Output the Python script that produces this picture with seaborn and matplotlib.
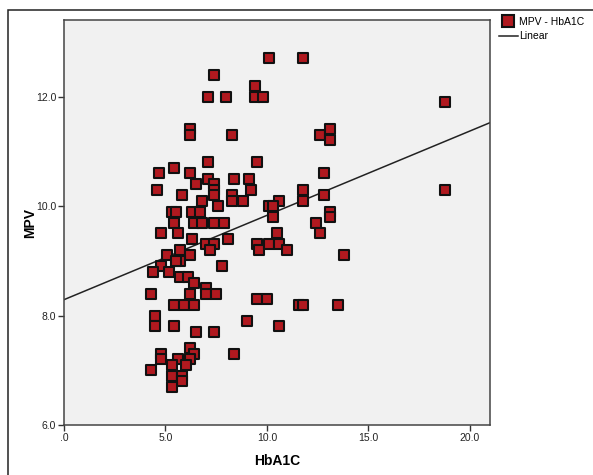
import numpy as np
import matplotlib
matplotlib.use("Agg")
import matplotlib.pyplot as plt
import seaborn as sns
import pandas as pd
from matplotlib.patches import Rectangle
from matplotlib.lines import Line2D
from matplotlib.ticker import FuncFormatter

# values
hba1c = [10.1, 11.8, 7.4, 7.1, 8.0, 9.4, 9.4, 9.8, 18.8, 6.2,
         6.2, 8.3, 12.6, 13.1, 13.1, 7.1, 9.5, 12.8, 4.7, 5.4,
         6.2, 4.6, 5.8, 6.5, 7.1, 7.4, 7.4, 8.4, 9.1, 9.2,
         8.3, 8.3, 8.8, 6.8, 7.6, 7.4, 11.8, 11.8, 12.8, 10.6,
         10.1, 10.3, 10.3, 13.1, 13.1, 12.4, 12.6, 18.8, 5.3, 5.5,
         6.3, 6.7, 5.4, 6.4, 6.8, 7.4, 7.9, 4.8, 5.6, 6.3,
         8.1, 10.5, 9.5, 9.6, 10.1, 10.6, 11.0, 13.8, 7.0, 7.4,
         7.2, 5.7, 6.2, 5.1, 5.7, 4.8, 5.5, 4.4, 5.2, 7.8,
         5.7, 6.1, 6.4, 6.2, 7.0, 7.0, 7.5, 4.3, 5.4, 5.9,
         6.4, 9.5, 10.0, 11.6, 11.8, 13.5, 4.5, 4.5, 5.4, 6.5,
         7.4, 9.0, 10.6, 4.8, 4.8, 5.6, 6.2, 6.4, 6.2, 5.3,
         6.0, 4.3, 5.3, 5.8, 5.8, 5.3, 8.4]
mpv = [12.7, 12.7, 12.4, 12.0, 12.0, 12.2, 12.0, 12.0, 11.9, 11.4,
       11.3, 11.3, 11.3, 11.4, 11.2, 10.8, 10.8, 10.6, 10.6, 10.7,
       10.6, 10.3, 10.2, 10.4, 10.5, 10.4, 10.3, 10.5, 10.5, 10.3,
       10.2, 10.1, 10.1, 10.1, 10.0, 10.2, 10.3, 10.1, 10.2, 10.1,
       10.0, 10.0, 9.8, 9.9, 9.8, 9.7, 9.5, 10.3, 9.9, 9.9,
       9.9, 9.9, 9.7, 9.7, 9.7, 9.7, 9.7, 9.5, 9.5, 9.4,
       9.4, 9.5, 9.3, 9.2, 9.3, 9.3, 9.2, 9.1, 9.3, 9.3,
       9.2, 9.2, 9.1, 9.1, 9.0, 8.9, 9.0, 8.8, 8.8, 8.9,
       8.7, 8.7, 8.6, 8.4, 8.5, 8.4, 8.4, 8.4, 8.2, 8.2,
       8.2, 8.3, 8.3, 8.2, 8.2, 8.2, 8.0, 7.8, 7.8, 7.7,
       7.7, 7.9, 7.8, 7.3, 7.2, 7.2, 7.4, 7.3, 7.2, 7.1,
       7.1, 7.0, 6.9, 6.9, 6.8, 6.7, 7.3]

# linear fit line
fit_intercept = 8.29
fit_slope = 0.154

df = pd.DataFrame({'HbA1C': hba1c, 'MPV': mpv})

plt.rcParams['font.family'] = ['Liberation Sans', 'DejaVu Sans']

fig = plt.figure(figsize=(5.93, 4.75), dpi=100)
ax = fig.add_axes([64/593, 1-425/475, (490-64)/593, (425-20)/475])
ax.set_facecolor('#f1f1f1')

sns.scatterplot(data=df, x='HbA1C', y='MPV', marker='s', s=58,
                color='#b0191f', edgecolor='#111111', linewidth=1.5, ax=ax,
                zorder=3, legend=False)

xs = np.array([0, 21.0])
ax.plot(xs, fit_intercept + fit_slope*xs, color='#222222', lw=1.1, zorder=2)

ax.set_xlim(0, 21.0)
ax.set_ylim(6.0, 13.4)
ax.set_xticks([0, 5, 10, 15, 20])
ax.set_yticks([6, 8, 10, 12])

def spss_fmt(v, pos):
    s = f"{v:.1f}"
    if s.startswith('0'):
        s = s[1:]
    return s

ax.xaxis.set_major_formatter(FuncFormatter(spss_fmt))
ax.yaxis.set_major_formatter(FuncFormatter(spss_fmt))
ax.tick_params(direction='out', length=4, width=1, color='#333333',
               labelsize=7.5, labelcolor='#222222', pad=1.5)
for sp in ax.spines.values():
    sp.set_color('#444444')
    sp.set_linewidth(1.1)

ax.set_xlabel('HbA1C', fontsize=10, fontweight='bold', labelpad=8)
ax.set_ylabel('MPV', fontsize=10, fontweight='bold')
ax.yaxis.set_label_coords(-0.064, 0.5)

handles = [Line2D([], [], marker='s', linestyle='none', markersize=8,
                  markerfacecolor='#b0191f', markeredgecolor='#111111',
                  markeredgewidth=1.5),
           Line2D([], [], color='#222222', lw=1.1)]
fig.legend(handles, ['MPV - HbA1C', 'Linear'], loc='upper left',
           bbox_to_anchor=(499/593, 1-17/475), frameon=False, fontsize=7.5,
           handlelength=1.8, handletextpad=0.1, borderaxespad=0,
           borderpad=0, labelspacing=0.4)

# outer frame of the picture
fig.add_artist(Rectangle((8/593, -0.1), 1.2, 1.1-10/475, transform=fig.transFigure,
                         fill=False, edgecolor='#222222', lw=1.1, clip_on=False))

fig.savefig('out.png', dpi=100)
